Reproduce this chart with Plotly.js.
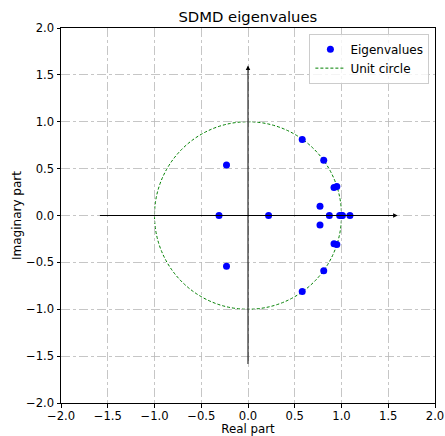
<!DOCTYPE html>
<html><head><meta charset="utf-8">
<script src="https://cdn.plot.ly/plotly-3.0.1.min.js"></script>
<style>html,body{margin:0;padding:0;background:#fff}</style>
</head><body>
<div id="chart" style="width:445px;height:436px"></div>
<script>
const eigReal = [0.58, 0.58, 0.81, 0.81, 0.92, 0.92, 0.95, 0.95, 0.77, 0.77, 0.87, 0.98, 1.00, 1.01, 1.09, -0.23, -0.23, -0.31, 0.22];
const eigImag = [0.81, -0.81, 0.59, -0.59, 0.30, -0.30, 0.31, -0.31, 0.10, -0.10, 0.00, 0.00, 0.00, 0.00, 0.00, 0.54, -0.54, 0.00, 0.00];
const tickVals = [-2.0, -1.5, -1.0, -0.5, 0.0, 0.5, 1.0, 1.5, 2.0];
const arrowExtent = 1.6;
const circleRadius = 1.0;

const font = {family: 'DejaVu Sans, sans-serif', color: '#000'};
const axisBase = {
  range: [-2, 2], tickvals: tickVals, tickformat: '.1f',
  ticks: 'outside', ticklen: 3.5, tickcolor: '#000', tickwidth: 1,
  showline: true, linecolor: '#000', linewidth: 1, mirror: true,
  showgrid: true, gridcolor: '#b8b8b8', griddash: 'dashdot', gridwidth: 0.8,
  zeroline: false, tickfont: {size: 11.6, family: font.family, color: '#000'},
  fixedrange: true, automargin: false
};

const traces = [{
  type: 'scatter', mode: 'markers', x: eigReal, y: eigImag, name: 'Eigenvalues',
  marker: {color: '#0000ff', size: 7}
}, {
  type: 'scatter', mode: 'lines', x: [null], y: [null], name: 'Unit circle',
  line: {color: '#008000', width: 1, dash: '3px,2px'}
}];

const layout = {
  width: 445, height: 436,
  margin: {l: 61, r: 10, t: 28, b: 33},
  paper_bgcolor: '#fff', plot_bgcolor: '#fff',
  font: font,
  title: {text: 'SDMD eigenvalues', font: {size: 14.8, family: font.family, color: '#000'}, x: 0.557, xanchor: 'center', y: 0.962, yanchor: 'middle'},
  xaxis: Object.assign({}, axisBase, {ticklabelstandoff: -1, title: {text: 'Real part', font: {size: 11.8}}}),
  yaxis: Object.assign({}, axisBase, {title: {text: 'Imaginary part', font: {size: 12}}}),
  showlegend: true,
  legend: {x: 0.985, xanchor: 'right', y: 0.985, yanchor: 'top', bordercolor: '#ccc', borderwidth: 1, bgcolor: 'rgba(255,255,255,0.8)', font: {size: 12}, tracegroupgap: 0, itemwidth: 30},
  shapes: [{
    type: 'circle', xref: 'x', yref: 'y', x0: -circleRadius, y0: -circleRadius, x1: circleRadius, y1: circleRadius,
    line: {color: '#008000', width: 1, dash: '3px,2px'}, layer: 'below'
  }],
  annotations: [
    {x: arrowExtent, y: 0, ax: -arrowExtent, ay: 0, xref: 'x', yref: 'y', axref: 'x', ayref: 'y', showarrow: true, arrowhead: 2, arrowsize: 0.9, arrowwidth: 1, arrowcolor: '#000', text: ''},
    {x: 0, y: arrowExtent, ax: 0, ay: -arrowExtent, xref: 'x', yref: 'y', axref: 'x', ayref: 'y', showarrow: true, arrowhead: 2, arrowsize: 0.9, arrowwidth: 1, arrowcolor: '#000', text: ''}
  ]
};

Plotly.newPlot('chart', traces, layout, {displayModeBar: false, staticPlot: true});
</script>
</body></html>
